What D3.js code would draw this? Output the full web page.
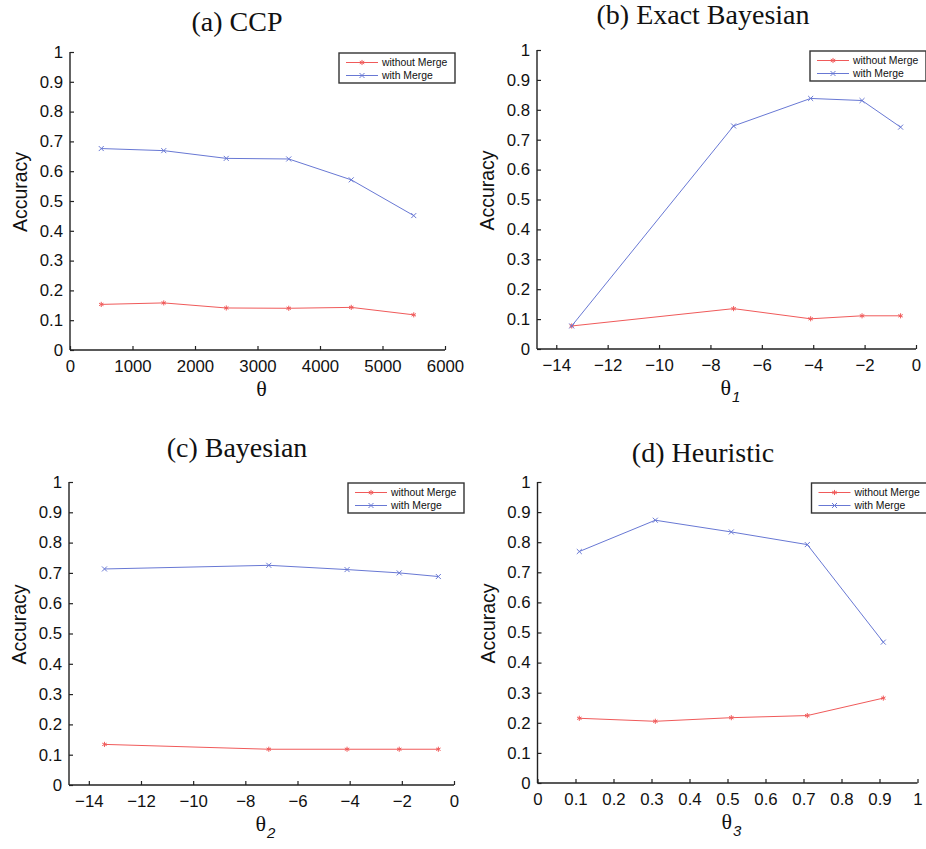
<!DOCTYPE html>
<html>
<head>
<meta charset="utf-8">
<script src="https://cdn.jsdelivr.net/npm/d3@7"></script>
<style>
  html, body { margin: 0; padding: 0; background: #fff; }
  svg { display: block; }
</style>
</head>
<body>
<svg id="chart" width="926" height="849"></svg>
<script>
// ---------- data ----------
const seriesNames = ["without Merge", "with Merge"];
const yTicks = [0, 0.1, 0.2, 0.3, 0.4, 0.5, 0.6, 0.7, 0.8, 0.9, 1];

const titleA = "(a) CCP";
const xA = [500, 1500, 2500, 3500, 4500, 5500];
const withoutA = [0.153, 0.158, 0.141, 0.140, 0.143, 0.118];
const withA = [0.676, 0.669, 0.643, 0.641, 0.571, 0.451];
const xTicksA = [0, 1000, 2000, 3000, 4000, 5000, 6000];

const titleB = "(b) Exact Bayesian";
const xB = [-13.4, -7.1, -4.1, -2.1, -0.6];
const withoutB = [0.077, 0.135, 0.101, 0.111, 0.111];
const withB = [0.077, 0.746, 0.838, 0.831, 0.742];
const xTicksB = [-14, -12, -10, -8, -6, -4, -2, 0];

const titleC = "(c) Bayesian";
const xC = [-13.4, -7.1, -4.1, -2.1, -0.6];
const withoutC = [0.134, 0.118, 0.118, 0.118, 0.118];
const withC = [0.713, 0.725, 0.711, 0.700, 0.688];
const xTicksC = [-14, -12, -10, -8, -6, -4, -2, 0];

const titleD = "(d) Heuristic";
const xD = [0.11, 0.31, 0.51, 0.71, 0.91];
const withoutD = [0.215, 0.205, 0.217, 0.224, 0.282];
const withD = [0.769, 0.873, 0.834, 0.792, 0.468];
const xTicksD = [0, 0.1, 0.2, 0.3, 0.4, 0.5, 0.6, 0.7, 0.8, 0.9, 1];

// ---------- layout ----------
const panels = [
  { title: titleA, x: xA, s: [withoutA, withA], ticks: xTicksA, dom: [0, 6000], sub: "",
    L: 70, R: 445, T: 52, B: 350, titleX: 237, titleY: 31 },
  { title: titleB, x: xB, s: [withoutB, withB], ticks: xTicksB, dom: [-14.75, 0], sub: "1",
    L: 537, R: 916, T: 50, B: 349, titleX: 703, titleY: 24 },
  { title: titleC, x: xC, s: [withoutC, withC], ticks: xTicksC, dom: [-14.76, 0], sub: "2",
    L: 69, R: 454, T: 482, B: 785, titleX: 237, titleY: 457 },
  { title: titleD, x: xD, s: [withoutD, withD], ticks: xTicksD, dom: [0, 1], sub: "3",
    L: 537.5, R: 917.5, T: 482, B: 783, titleX: 703, titleY: 462 }
];

const colors = ["#f05a5a", "#6878d4"];
const symbols = [d3.symbolAsterisk, d3.symbolTimes];
const sans = "'Liberation Sans', Arial, Helvetica, sans-serif";
const serif = "'Liberation Serif', 'Times New Roman', serif";

const svg = d3.select("#chart");

panels.forEach(p => {
  const g = svg.append("g");
  const x = d3.scaleLinear().domain(p.dom).range([p.L, p.R]);
  const y = d3.scaleLinear().domain([0, 1]).range([p.B, p.T]);

  // title
  g.append("text").attr("x", p.titleX).attr("y", p.titleY)
    .attr("text-anchor", "middle").attr("font-family", serif).attr("font-size", 28)
    .attr("fill", "#111").text(p.title);

  // axes
  const xAxis = d3.axisBottom(x).tickValues(p.ticks).tickSizeInner(-4).tickSizeOuter(0)
    .tickPadding(10).tickFormat(d => d3.format("")(d).replace("-", "\u2212"));
  const gx = g.append("g").attr("transform", `translate(0,${p.B})`).call(xAxis);
  const yAxis = d3.axisLeft(y).tickValues(yTicks).tickSizeInner(-4).tickSizeOuter(0)
    .tickPadding(7).tickFormat(d3.format(""));
  const gy = g.append("g").attr("transform", `translate(${p.L},0)`).call(yAxis);
  [gx, gy].forEach(a => {
    a.select(".domain").attr("stroke", "#222").attr("stroke-width", 1.4);
    a.selectAll(".tick line").attr("stroke", "#222").attr("stroke-width", 1.2);
    a.selectAll(".tick text").attr("font-family", sans).attr("font-size", 16.8).attr("fill", "#111");
  });
  gx.select(".domain").attr("d", `M${p.L},0H${p.R}`);
  gy.select(".domain").attr("d", `M0,${p.B}V${p.T}`);

  // y label
  g.append("text")
    .attr("transform", `translate(${p.L - 43},${(p.T + p.B) / 2 - 9}) rotate(-90)`)
    .attr("text-anchor", "middle").attr("font-family", sans).attr("font-size", 19.5)
    .attr("fill", "#111").text("Accuracy");

  // x label
  const xl = g.append("text").attr("x", (p.L + p.R) / 2 + 4).attr("y", p.B + 46)
    .attr("text-anchor", "middle").attr("fill", "#111");
  xl.append("tspan").attr("font-family", serif).attr("font-size", 22).text("\u03B8");
  if (p.sub) {
    xl.append("tspan").attr("font-family", sans).attr("font-style", "italic")
      .attr("font-size", 15).attr("dy", 7).attr("dx", 1).text(p.sub);
  }

  // series
  p.s.forEach((vals, i) => {
    const pts = vals.map((v, k) => [p.x[k], v]);
    g.append("path").datum(pts)
      .attr("fill", "none").attr("stroke", colors[i]).attr("stroke-width", 1)
      .attr("d", d3.line().x(d => x(d[0])).y(d => y(d[1])));
    g.selectAll(null).data(pts).enter().append("path")
      .attr("transform", d => `translate(${x(d[0])},${y(d[1])})`)
      .attr("d", d3.symbol().type(symbols[i]).size(18))
      .attr("fill", "none").attr("stroke", colors[i]).attr("stroke-width", 1);
  });

  // legend
  const lw = 116, lh = 30;
  const lx = p.R + 10 - lw, ly = p.T + 1;
  const lg = g.append("g").attr("transform", `translate(${lx},${ly})`);
  lg.append("rect").attr("width", lw).attr("height", lh)
    .attr("fill", "#fff").attr("stroke", "#333").attr("stroke-width", 1.4);
  seriesNames.forEach((name, i) => {
    const yy = 9.5 + i * 13;
    lg.append("line").attr("x1", 7).attr("x2", 39).attr("y1", yy).attr("y2", yy)
      .attr("stroke", colors[i]).attr("stroke-width", 1);
    lg.append("path").attr("transform", `translate(23,${yy})`)
      .attr("d", d3.symbol().type(symbols[i]).size(18))
      .attr("fill", "none").attr("stroke", colors[i]).attr("stroke-width", 1);
    lg.append("text").attr("x", 43).attr("y", yy + 3.5)
      .attr("font-family", sans).attr("font-size", 10.4).attr("fill", "#111").text(name);
  });
});
</script>
</body>
</html>
